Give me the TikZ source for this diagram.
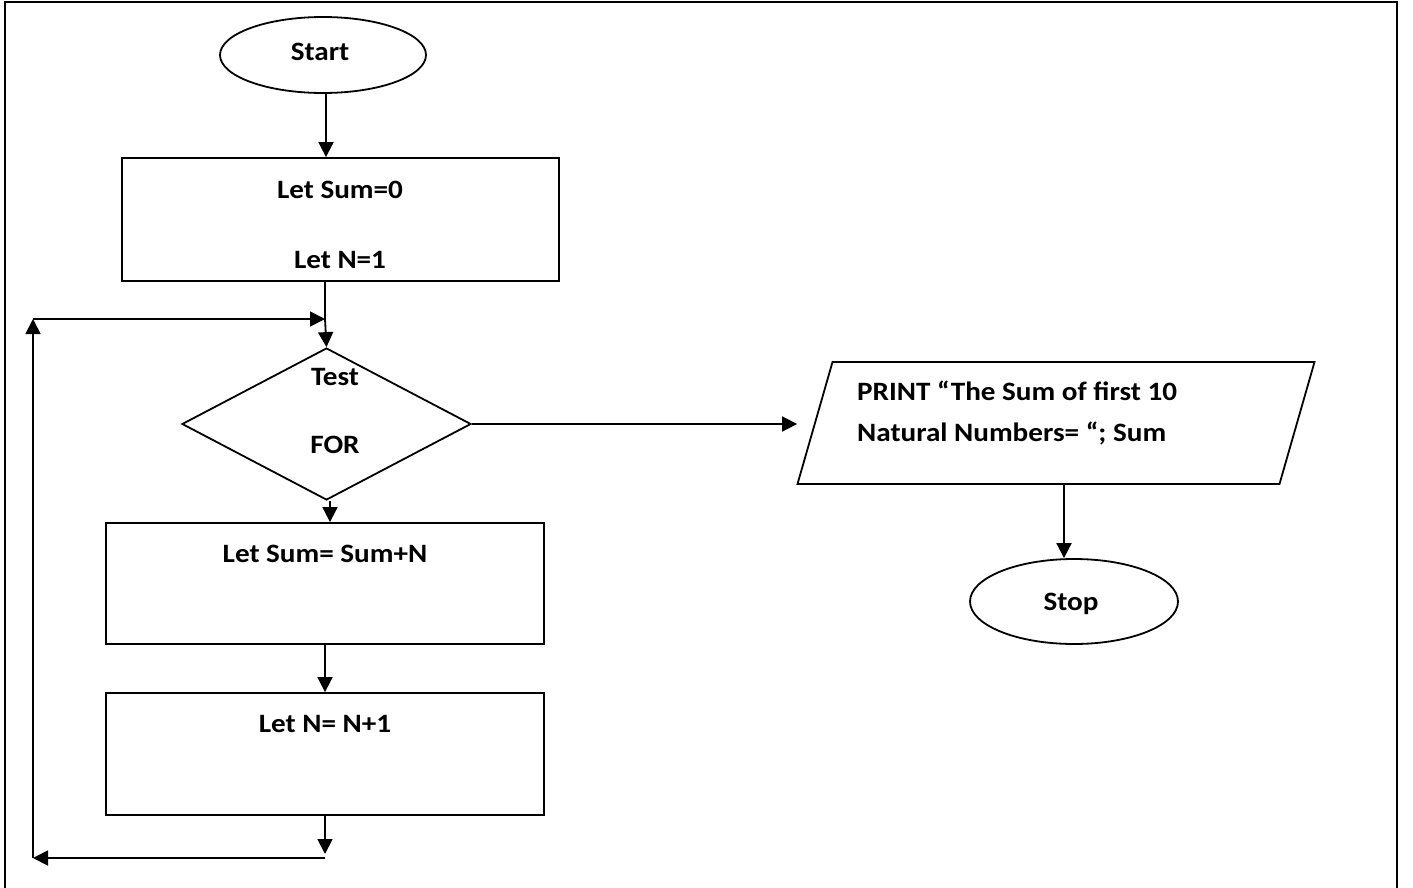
\documentclass[tikz,border=0pt]{standalone}
\usepackage{fontspec}
\setmainfont{Carlito}[FakeStretch=1.1]
\usetikzlibrary{shapes.geometric,arrows.meta}
\begin{document}
\begin{tikzpicture}[x=1pt,y=-1pt,
  outline/.style={draw=black,line width=1.8pt,inner sep=0pt},
  lbl/.style={font=\fontsize{26.5}{31}\selectfont\bfseries,inner sep=0pt},
  arr/.style={line width=1.8pt,-{Triangle[length=15pt,width=15pt]}},
  plain/.style={line width=1.8pt}]
\useasboundingbox (0,0) rectangle (1413,888);
% page frame (open at the bottom)
\draw[line width=2.2pt] (5,900) -- (5,2) -- (1397,2) -- (1397,900);

% terminals
\node[ellipse,outline,minimum width=206pt,minimum height=76pt] (start) at (323,55) {};
\node[lbl] (tstart) at (320,52) {Start};
\node[ellipse,outline,minimum width=208pt,minimum height=85pt] (stop) at (1074,601.5) {};
\node[lbl] (tstop) at (1071,604) {Stop};

% process boxes
\node[rectangle,outline,minimum width=437pt,minimum height=123pt] (init) at (340.5,219.5) {};
\node[lbl,anchor=base] (tinit1) at (340,198) {Let Sum=0};
\node[lbl,anchor=base] (tinit2) at (340,268) {Let N=1};

\node[rectangle,outline,minimum width=438pt,minimum height=121pt] (add) at (325,583.5) {};
\node[lbl,anchor=base] (tadd) at (325,562) {Let Sum= Sum+N};

\node[rectangle,outline,minimum width=438pt,minimum height=122pt] (inc) at (325,754) {};
\node[lbl,anchor=base] (tinc) at (325,732) {Let N= N+1};

% decision
\node[diamond,outline,minimum width=289pt,minimum height=152pt] (test) at (326.5,424) {};
\node[lbl,anchor=base] (ttest) at (335,385) {Test};
\node[lbl,anchor=base] (tfor) at (335,453) {FOR};

% output (slanted box)
\node[rectangle,outline,minimum width=482pt,minimum height=122pt,
      xslant=0.287,transform shape] (print) at (1056,423) {};
\node[lbl,anchor=base west] (tprint1) at (857,400) {PRINT “The Sum of first 10};
\node[lbl,anchor=base west] (tprint2) at (857,441) {Natural Numbers= “; Sum};

% loop corners
\coordinate (m1) at (325,858);
\coordinate (m2) at (33,858);
\coordinate (m3) at (33,319);
\coordinate (m4) at (325,319);

% connectors
\draw[arr] (start.south -| 326,0) -- (init.north -| 326,0);
\draw[plain] (init.south -| 325,0) -- (m4);
\draw[arr] (m4) -- (test.north);
\draw[arr] (test.south -| 330,0) -- (add.north -| 330,0);
\draw[arr] (add.south -| 325,0) -- (inc.north -| 325,0);
\draw[arr] (inc.south -| 325,0) -- ([yshift=4pt]m1);
\draw[arr] (m1) -- (m2);
\draw[arr] (m2) -- (m3);
\draw[arr] (m3) -- (m4);
\draw[arr,shorten >=17pt] (test.east) -- (test.east -| print.west);
\draw[arr] (print.south -| 1064,0) -- (stop.north -| 1064,0);
\end{tikzpicture}
\end{document}
